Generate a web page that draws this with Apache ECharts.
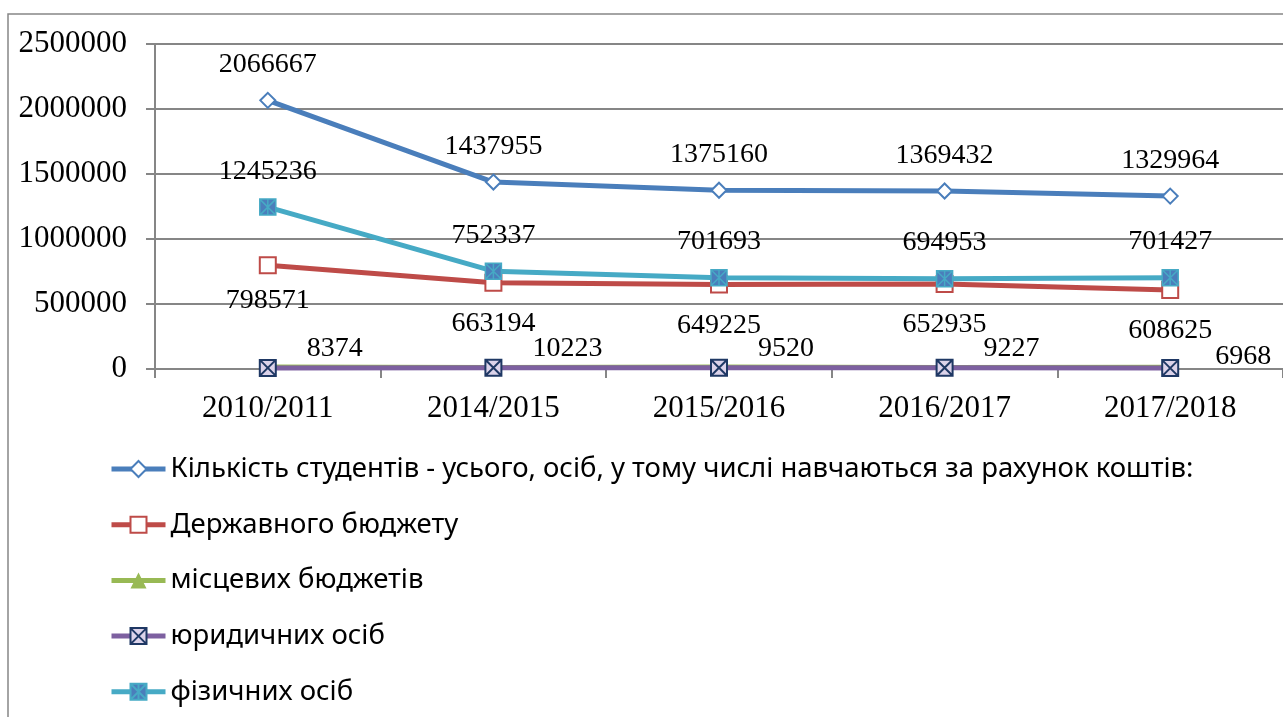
<!DOCTYPE html>
<html>
<head>
<meta charset="utf-8">
<script src="https://cdn.jsdelivr.net/npm/echarts@6/dist/echarts.min.js"></script>
<style>
* { margin: 0; padding: 0; }
#chart-container { width: 1283px; height: 717px; background: #fff; }
</style>
</head>
<body>
<div id="chart-container"></div>
<script>
// навчальні роки
const years = ['2010/2011', '2014/2015', '2015/2016', '2016/2017', '2017/2018'];
// кількість студентів
const totalStudents = [2066667, 1437955, 1375160, 1369432, 1329964];
const stateBudget = [798571, 663194, 649225, 652935, 608625];
const localBudgets = [14486, 12201, 14722, 12317, 12944];
const legalPersons = [8374, 10223, 9520, 9227, 6968];
const privatePersons = [1245236, 752337, 701693, 694953, 701427];
const seriesNames = [
    'Кількість студентів - усього, осіб, у тому числі навчаються за рахунок коштів:',
    'Державного бюджету',
    'місцевих бюджетів',
    'юридичних осіб',
    'фізичних осіб'
];

const dom = document.getElementById('chart-container');
const myChart = echarts.init(dom, null, { renderer: 'canvas' });

const serif = 'Liberation Serif';
const grey = '#868686';

let labelStyle = {
    show: true,
    fontFamily: serif,
    fontSize: 28,
    color: '#000'
};

// перша підпис червоної лінії стоїть ближче до точки
let stateData = stateBudget.map((v, i) => i === 0 ? { value: v, label: { distance: 12 } } : v);
// останній підпис фіолетової лінії трохи нижче
let legalData = legalPersons.map((v, i) => i === legalPersons.length - 1 ? { value: v, label: { offset: [6, -11] } } : v);

let option = {
    animation: false,
    graphic: [{
        type: 'rect',
        shape: { x: 8, y: 14, width: 1300, height: 720 },
        style: { fill: 'none', stroke: grey, lineWidth: 1.5 }
    }],
    grid: { left: 155, top: 44, width: 1137, height: 325 },
    legend: {
        orient: 'vertical',
        left: 104,
        top: 449,
        itemWidth: 54,
        itemHeight: 20,
        itemGap: 25.7,
        lineStyle: { width: 5 },
        textStyle: { fontFamily: 'Noto Sans', fontSize: 27.5, lineHeight: 30, color: '#000' },
        data: seriesNames
    },
    xAxis: {
        type: 'category',
        data: years,
        boundaryGap: true,
        axisLine: { lineStyle: { color: grey, width: 2 } },
        axisTick: { show: true, length: 9, lineStyle: { color: grey, width: 2 } },
        axisLabel: { fontFamily: serif, fontSize: 31, color: '#000', margin: 24 }
    },
    yAxis: {
        type: 'value',
        min: 0,
        max: 2500000,
        interval: 500000,
        axisLine: { show: true, lineStyle: { color: grey, width: 2 } },
        axisTick: { show: true, length: 9, lineStyle: { color: grey, width: 2 } },
        splitLine: { lineStyle: { color: grey, width: 2 } },
        axisLabel: {
            fontFamily: serif, fontSize: 31, color: '#000', margin: 28,
            formatter: v => String(v)
        }
    },
    series: [
        {
            name: seriesNames[0],
            type: 'line',
            data: totalStudents,
            symbol: 'diamond',
            symbolSize: 15,
            lineStyle: { color: '#4a7ebb', width: 5 },
            itemStyle: { color: '#fff', borderColor: '#4a7ebb', borderWidth: 2 },
            label: Object.assign({}, labelStyle, { position: 'top', distance: 13 }),
            z: 5
        },
        {
            name: seriesNames[1],
            type: 'line',
            data: stateData,
            symbol: 'rect',
            symbolSize: 16,
            lineStyle: { color: '#be4b48', width: 5 },
            itemStyle: { color: '#fff', borderColor: '#be4b48', borderWidth: 2 },
            label: Object.assign({}, labelStyle, { position: 'bottom', distance: 18 }),
            z: 3
        },
        {
            name: seriesNames[2],
            type: 'line',
            data: localBudgets,
            symbol: 'triangle',
            symbolSize: 15,
            lineStyle: { color: '#98b954', width: 5 },
            itemStyle: { color: '#98b954' },
            label: { show: false },
            z: 2
        },
        {
            name: seriesNames[3],
            type: 'line',
            data: legalData,
            symbol: 'path://M0,0 L10,0 L10,10 L0,10 Z M0,0 L10,10 M10,0 L0,10',
            symbolSize: 16,
            lineStyle: { color: '#7d60a0', width: 5 },
            itemStyle: { color: '#dcd3ea', borderColor: '#1f3864', borderWidth: 2 },
            label: Object.assign({}, labelStyle, { position: 'right', distance: 30, offset: [0, -19] }),
            z: 4
        },
        {
            name: seriesNames[4],
            type: 'line',
            data: privatePersons,
            symbol: 'path://M0,0 L10,0 L10,10 L0,10 Z M0,0 L10,10 M10,0 L0,10 M5,0 L5,10',
            symbolSize: 16,
            lineStyle: { color: '#46aac5', width: 5 },
            itemStyle: { color: '#4a7ebb', borderColor: '#46aac5', borderWidth: 1.5 },
            label: Object.assign({}, labelStyle, { position: 'top', distance: 13 }),
            z: 4
        }
    ]
};

myChart.setOption(option);
window.addEventListener('resize', () => {
    myChart.resize();
});
</script>
</body>
</html>
